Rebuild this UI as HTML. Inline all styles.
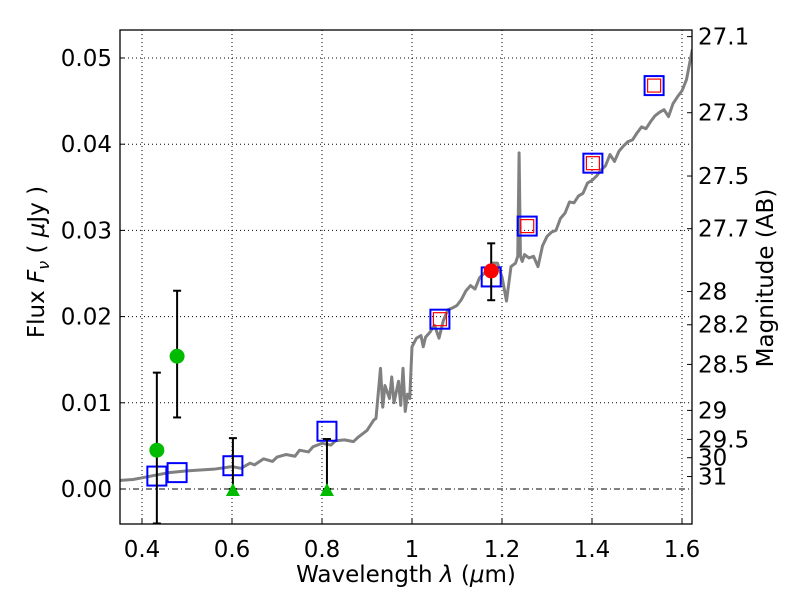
<!DOCTYPE html>
<html><head><meta charset="utf-8"><style>
body{margin:0;background:#fff;}
svg text{font-family:"DejaVu Sans","Liberation Sans",sans-serif;}
</style></head><body>
<svg id="chart" width="800" height="600" xmlns="http://www.w3.org/2000/svg"></svg>
<script>
const xTicks=[0.4,0.6,0.8,1.0,1.2,1.4,1.6];
const xTickLabels=["0.4","0.6","0.8","1","1.2","1.4","1.6"];
const yTicks=[0,0.01,0.02,0.03,0.04,0.05];
const yTickLabels=["0.00","0.01","0.02","0.03","0.04","0.05"];
const magTicks=[27.1,27.3,27.5,27.7,28,28.2,28.5,29,29.5,30,31];
const specWave=[0.35,0.38,0.40,0.43,0.46,0.50,0.53,0.56,0.60,0.62,0.64,0.65,0.67,0.69,0.70,0.72,0.74,0.75,0.77,0.78,0.80,0.82,0.83,0.85,0.87,0.88,0.90,0.915,0.92,0.93,0.935,0.94,0.95,0.955,0.96,0.97,0.975,0.98,0.985,0.99,0.995,1.0,1.01,1.02,1.025,1.03,1.04,1.05,1.06,1.07,1.08,1.09,1.10,1.11,1.12,1.13,1.14,1.15,1.16,1.17,1.18,1.19,1.20,1.21,1.22,1.23,1.235,1.238,1.241,1.245,1.25,1.26,1.27,1.28,1.29,1.30,1.31,1.32,1.33,1.34,1.35,1.36,1.37,1.38,1.39,1.40,1.41,1.42,1.43,1.44,1.45,1.46,1.47,1.48,1.49,1.50,1.51,1.52,1.53,1.54,1.55,1.56,1.57,1.58,1.59,1.60,1.61,1.623];
const specFlux=[0.0010,0.0011,0.0013,0.0016,0.0019,0.0021,0.0022,0.0023,0.0026,0.0024,0.0030,0.0028,0.0035,0.0032,0.0037,0.0040,0.0038,0.0045,0.0043,0.0049,0.0053,0.0051,0.0056,0.0057,0.0055,0.0060,0.0068,0.0080,0.0082,0.0140,0.0095,0.0120,0.0105,0.0130,0.0100,0.0125,0.0097,0.0140,0.0090,0.0110,0.0105,0.0165,0.0175,0.0178,0.0165,0.0176,0.0182,0.0190,0.0175,0.0196,0.0208,0.0210,0.0213,0.0220,0.0230,0.0236,0.0232,0.0245,0.0250,0.0250,0.0262,0.0262,0.0246,0.0218,0.0258,0.0262,0.0270,0.0390,0.0270,0.0264,0.0272,0.0268,0.0270,0.0258,0.0282,0.0293,0.0298,0.0300,0.0314,0.0320,0.0333,0.0332,0.0340,0.0343,0.0355,0.0358,0.0363,0.0370,0.0375,0.0388,0.0380,0.0392,0.0398,0.0403,0.0405,0.0413,0.0420,0.0418,0.0426,0.0433,0.0437,0.0440,0.0432,0.0447,0.0455,0.0462,0.0475,0.0510];
const modelWave=[0.433,0.478,0.602,0.811,1.062,1.176,1.256,1.402,1.538];
const modelFlux=[0.0015,0.0019,0.0027,0.0067,0.0197,0.0246,0.0305,0.0378,0.0468];
const redWave=[1.062,1.256,1.402,1.538];
const redFlux=[0.0197,0.0305,0.0378,0.0468];
const detWave=[1.176];const detFlux=[0.0253];const detLo=[0.0219];const detHi=[0.0285];
const grnWave=[0.433,0.478];const grnFlux=[0.0045,0.0154];const grnLo=[-0.0040,0.0083];const grnHi=[0.0135,0.0230];
const limWave=[0.602,0.811];const limFlux=[0,0];const limHi=[0.0059,0.0058];

const L=120,R=692,T=30,B=524;
const X=v=>142+(v-0.4)*450;
const Y=v=>489-v*8620;
const svg=document.getElementById('chart');
const NS='http://www.w3.org/2000/svg';
function mk(tag,attrs,parent){const e=document.createElementNS(NS,tag);for(const k in attrs)e.setAttribute(k,attrs[k]);(parent||svg).appendChild(e);return e;}
const clip=mk('clipPath',{id:'pc'});mk('rect',{x:L,y:T,width:R-L,height:B-T},clip);
const g=mk('g',{'clip-path':'url(#pc)'});

xTicks.forEach((t,i)=>{
 const l=mk('line',{x1:X(t),x2:X(t),y1:T,y2:B,stroke:'#000','stroke-width':1,'stroke-dasharray':'1,3'},g);
 
 
 const tk=mk('line',{x1:X(t),x2:X(t),y1:B,y2:B-5,stroke:'#000'});
 
 
 const tx=mk('text',{x:X(t),y:B+33,'text-anchor':'middle','font-size':23});tx.textContent=xTickLabels[i];
 
 
});
yTicks.forEach((t,i)=>{
 if(t!==0){const l=mk('line',{x1:L,x2:R,y1:Y(t),y2:Y(t),stroke:'#000','stroke-width':1,'stroke-dasharray':'1,3'},g);
 
 }
 const tk=mk('line',{x1:L,x2:L+5,y1:Y(t),y2:Y(t),stroke:'#000'});
 
 
 const tx=mk('text',{x:L-8,y:Y(t)+8,'text-anchor':'end','font-size':23});tx.textContent=yTickLabels[i];
 
 
});
const zl=mk('line',{x1:L,x2:R,y1:Y(0),y2:Y(0),stroke:'#000','stroke-width':1,'stroke-dasharray':'6,3,1,3'},g);


magTicks.forEach(m=>{
 const f=Math.pow(10,(23.9-m)/2.5);const y=Y(f);
 const tk=mk('line',{x1:R,x2:R-5,y1:y,y2:y,stroke:'#000'});
 
 
 const tx=mk('text',{x:R+6,y:y+8,'font-size':23});tx.textContent=String(m);
 
 
});
const sp=mk('polyline',{points:specWave.map((w,i)=>X(w)+','+Y(specFlux[i])).join(' '),fill:'none',stroke:'#808080','stroke-width':3,'stroke-linejoin':'round'},g);


function errbar(x,lo,hi,name){
 const e=mk('g',{stroke:'#000','stroke-width':2},g);
 
 
 mk('line',{x1:X(x),x2:X(x),y1:Y(lo),y2:Y(hi)},e);
 mk('line',{x1:X(x)-4,x2:X(x)+4,y1:Y(lo),y2:Y(lo)},e);
 mk('line',{x1:X(x)-4,x2:X(x)+4,y1:Y(hi),y2:Y(hi)},e);
}
modelWave.forEach((w,i)=>{
 const r=mk('rect',{x:X(w)-9.5,y:Y(modelFlux[i])-9.5,width:19,height:19,fill:'none',stroke:'#0000ff','stroke-width':2},g);
 
 
});
redWave.forEach((w,i)=>{
 const r=mk('rect',{x:X(w)-6.5,y:Y(redFlux[i])-6.5,width:13,height:13,fill:'none',stroke:'#ff0000','stroke-width':1.2},g);
 
 
});
grnWave.forEach((w,i)=>{
 errbar(w,grnLo[i],grnHi[i],'green-error-bar');
 const c=mk('circle',{cx:X(w),cy:Y(grnFlux[i]),r:7.5,fill:'#00bb00'},g);
 
 
});
limWave.forEach((w,i)=>{
 errbar(w,limFlux[i],limHi[i],'limit-error-bar');
 const x=X(w),y=Y(limFlux[i]);
 const p=mk('polygon',{points:`${x-7},${y+7} ${x+7},${y+7} ${x},${y-6}`,fill:'#00bb00'},g);
 
 
});
detWave.forEach((w,i)=>{
 errbar(w,detLo[i],detHi[i],'red-error-bar');
 const c=mk('circle',{cx:X(w),cy:Y(detFlux[i]),r:7.5,fill:'#ff0000'},g);
 
 
});
const fr=mk('rect',{x:L,y:T,width:R-L,height:B-T,fill:'none',stroke:'#000','stroke-width':1.3});


const xt=mk('text',{x:406,y:582,'text-anchor':'middle','font-size':23});
xt.innerHTML='Wavelength  <tspan font-style="italic">λ</tspan> (<tspan font-style="italic">μ</tspan>m)';


const yt=mk('text',{x:0,y:0,'text-anchor':'middle','font-size':23,transform:'translate(44,262) rotate(-90)'});
yt.innerHTML='Flux  <tspan font-style="italic">F</tspan><tspan font-style="italic" font-size="16" dy="5">ν</tspan><tspan dy="-5">  (  </tspan><tspan font-style="italic">μ</tspan>Jy )';


const rt=mk('text',{x:0,y:0,'text-anchor':'middle','font-size':23,transform:'translate(773,278) rotate(-90)'});
rt.textContent='Magnitude (AB)';


</script>
</body></html>
